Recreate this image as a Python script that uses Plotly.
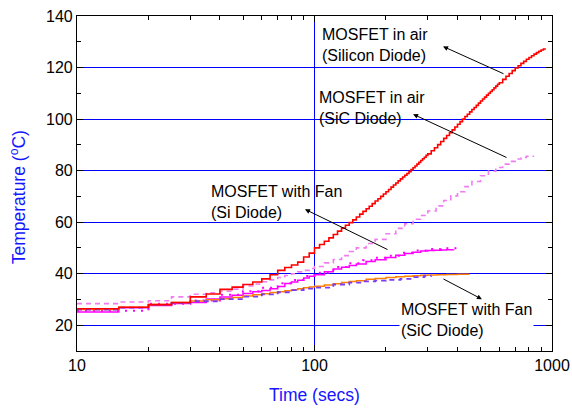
import math
import plotly.graph_objects as go

# ---- data (time in s, temperature in degC) ----
si_air_t = [10,15,20,25,30,35,40,45,50,55,60,65,70,75,80,85,90,95,
            100,105,110,115,120,125,130,135,140,145,150,155,160,165,170,175,180,185,190,195,
            200,205,210,215,220,225,230,235,240,245,250,255,260,265,270,275,280,285,290,295,300,
            310,320,330,340,350,360,370,380,390,400,410,420,430,440,450,460,470,480,490,500,
            510,520,530,540,550,560,570,580,590,600,
            620,640,660,680,700,720,740,760,780,800,820,840,860,880,900,920,935]
si_air_T = [26.4,27,28,28.8,31,32.1,33.9,34.8,35.8,36.8,38,39.6,41.3,42.4,43.4,44.5,46.5,48,
            50,51.3,52.6,53.9,55.2,56.5,57.7,58.8,59.8,60.9,62,63.1,64.2,65.2,66.2,67.2,68.2,69.1,70,70.9,
            71.8,72.7,73.6,74.4,75.2,76,76.8,77.5,78.2,78.9,79.6,80.4,81.1,81.8,82.5,83.2,83.9,84.6,85.2,85.9,86.5,
            87.7,88.9,90.1,91.3,92.5,93.6,94.7,95.8,96.9,98,99,100,101,101.9,102.8,103.7,104.5,105.3,106.2,107,
            107.8,108.5,109.3,110,110.7,111.4,112.1,112.8,113.5,114.1,
            115.4,116.6,117.7,118.8,119.8,120.7,121.6,122.4,123.2,123.9,124.6,125.2,125.8,126.3,126.8,127.2,127.5]

sic_air_t = [10,15,20,25,30,35,40,45,50,55,60,65,70,75,80,85,90,95,100,110,120,130,140,150,165,180,200,220,240,260,280,300,325,350,375,400,430,460,500,540,580,620,660,700,740,780,834]
sic_air_T = [28.4,29,29.5,31,32,32.6,33.2,34,35.2,36,36.9,37.6,38.5,39.3,40,40.7,41.3,42,42.8,44.2,45.5,47,48.6,50,51.7,53.3,55.5,57.6,59.4,61.1,62.6,64.3,66.3,68.4,70.2,71.8,73.8,75.8,78,79.8,81.2,82.5,83.6,84.5,85.1,85.6,85.9]

si_fan_t = [10,15,20,25,30,35,40,45,50,55,60,65,70,75,80,85,90,95,100,110,120,130,140,150,165,180,200,220,240,260,280,300,320,340,360,385]
si_fan_T = [25.1,26.8,27.7,28.4,28.8,30.2,31,31.6,32.3,33,33.5,34.2,35,36.2,36.8,37.5,38.3,39,39.6,40.8,41.8,42.5,43.2,43.8,44.7,45.4,46.3,47.2,47.8,48.3,48.8,49,49.1,49.2,49.3,49.4]

si_fan2_t = [10,20,30,40,50,60,70,80,90,100,120,140,160,180,200,230,260,300,340,400]
si_fan2_T = [25.6,28.3,29.6,31.8,33.2,34.5,36.3,37.6,39.1,40.4,42.6,44.1,45.2,46.2,47,48.1,49,49.6,49.9,50.1]

sic_fan_t = [10,15,20,25,30,35,40,45,50,55,60,65,70,75,80,85,90,95,100,110,120,130,140,150,165,180,200,220,240,260,280,300,330,360,400,450]
sic_fan_T = [26.1,27,28,28.8,29.4,29.9,30.3,30.8,31.3,31.8,32.2,32.7,33,33.4,33.8,34.2,34.5,34.8,35.1,35.6,36.1,36.6,37,37.3,37.8,38.1,38.5,38.8,39,39.2,39.4,39.5,39.6,39.7,39.8,39.8]

sic_fan2_t = [10,15,20,25,30,40,50,60,70,80,90,100,120,140,160,180,200,230,260,290,310]
sic_fan2_T = [26.1,26.8,27.9,28.6,29.3,30.1,31.1,32,32.8,33.6,34.2,34.6,35.8,36.5,37,37.3,37.6,38,38.7,39.2,39.3]

x_ticks = [10, 100, 1000]
x_ticktext = ["10", "100", "1000"]
y_ticks = [20, 40, 60, 80, 100, 120, 140]

FONT = "Arial, Liberation Sans, sans-serif"

fig = go.Figure()

def add(t, T, color, dash="solid", width=1.5):
    fig.add_trace(go.Scatter(x=t, y=T, mode="lines",
                             line=dict(color=color, dash=dash, width=width, shape="hv"),
                             showlegend=False, hoverinfo="skip"))

add(sic_air_t, sic_air_T, "#f07cf0", dash="5px,4px", width=1.6)
add(si_fan2_t, si_fan2_T, "#ff00ff", dash="2px,6px", width=2)
add(si_fan_t, si_fan_T, "#ff00ff", width=1.5)
add(sic_fan_t, sic_fan_T, "#ff8000", width=1.5)
add(sic_fan2_t, sic_fan2_T, "#7a3cf0", dash="5px,4px", width=1.8)
add(si_air_t, si_air_T, "#ff0000", width=1.6)

# ---- annotations ----
txt = dict(showarrow=False, xref="paper", yref="paper", xanchor="left",
           yanchor="middle", align="left", font=dict(family=FONT, size=16, color="black"))
fig.add_annotation(text="MOSFET in air<br>(Silicon Diode)", x=0.511, y=0.9125, **txt)
fig.add_annotation(text="MOSFET in air<br>(SiC Diode)", x=0.505, y=0.7245, **txt)
fig.add_annotation(text="MOSFET with Fan<br>(Si Diode)", x=0.278, y=0.4439, **txt)
fig.add_annotation(text="MOSFET with Fan<br>(SiC Diode)", x=0.677, y=0.0931, bgcolor="white", **txt)

arr = dict(text="", showarrow=True, xref="x", yref="y", axref="pixel", ayref="pixel",
           arrowhead=2, arrowsize=1, arrowwidth=1, arrowcolor="black")
fig.add_annotation(x=math.log10(347.6), y=128.2, ax=62, ay=28, **arr)
fig.add_annotation(x=math.log10(260), y=101.9, ax=95, ay=44, **arr)
fig.add_annotation(x=math.log10(91.2), y=65, ax=84, ay=41, **arr)
fig.add_annotation(x=math.log10(507), y=30.1, ax=-40, ay=-21, **arr)

# axis titles
fig.add_annotation(text="Temperature (<sup>o</sup>C)", xref="paper", yref="paper",
                   x=-0.1242, y=0.4588, textangle=-90, showarrow=False,
                   xanchor="center", yanchor="middle",
                   font=dict(family=FONT, size=17.5, color="#1515ff"))
fig.add_annotation(text="Time (secs)", xref="paper", yref="paper",
                   x=0.5, y=-0.1322, showarrow=False, xanchor="center", yanchor="middle",
                   font=dict(family=FONT, size=17.5, color="#1515ff"))

fig.update_xaxes(type="log", range=[1, 3], tickvals=x_ticks, ticktext=x_ticktext,
                 automargin=False,
                 showgrid=True, gridcolor="#0000ff", gridwidth=1,
                 showline=True, linecolor="black", linewidth=1.2, mirror="allticks",
                 ticks="inside", ticklen=6, tickcolor="black",
                 minor=dict(ticks="inside", ticklen=4, tickcolor="black", dtick="D1", showgrid=False),
                 tickfont=dict(family=FONT, size=16, color="black"), zeroline=False)
fig.update_yaxes(range=[10, 140], tickvals=y_ticks,
                 automargin=False,
                 showgrid=True, gridcolor="#0000ff", gridwidth=1,
                 showline=True, linecolor="black", linewidth=1.2, mirror="allticks",
                 ticks="inside", ticklen=6, tickcolor="black",
                 minor=dict(ticks="inside", ticklen=4, tickcolor="black", dtick=10, showgrid=False),
                 tickfont=dict(family=FONT, size=16, color="black"), zeroline=False)

fig.update_layout(width=572, height=408, margin=dict(l=77, r=20, t=16, b=57),
                  paper_bgcolor="white", plot_bgcolor="white",
                  font=dict(family=FONT))

fig.write_html("out.html")
